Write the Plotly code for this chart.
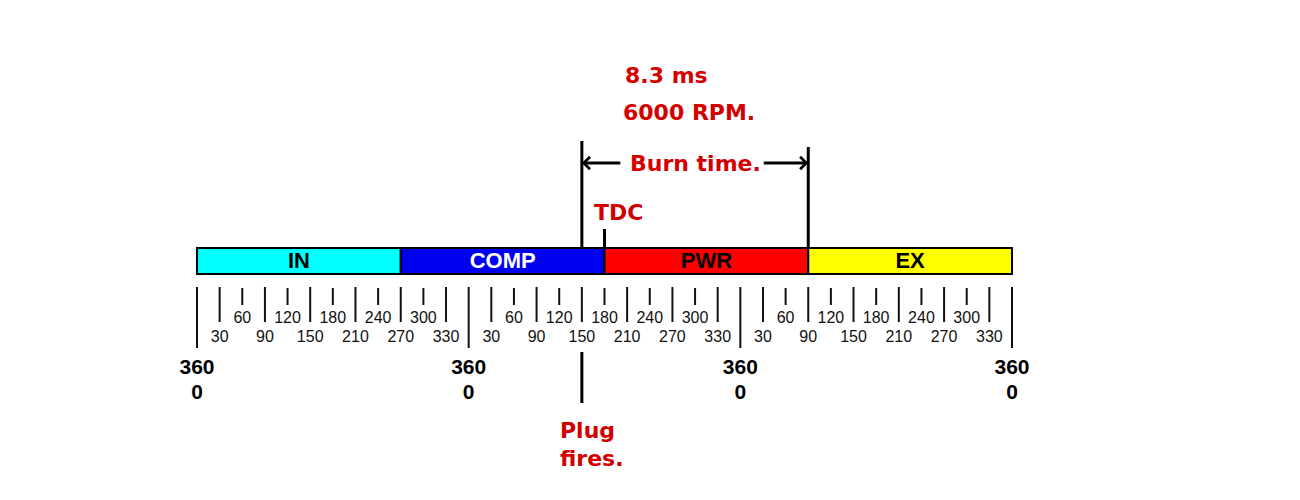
import plotly.graph_objects as go

# four strokes of the cycle, in crank degrees
strokes = ["IN", "COMP", "PWR", "EX"]
stroke_start = [0, 270, 540, 810]
stroke_end = [270, 540, 810, 1080]

# full turns of the crank and the scale labels inside one turn
turn_marks = [0, 360, 720, 1080]
upper_labels = [60, 120, 180, 240, 300]
lower_labels = [30, 90, 150, 210, 270, 330]

# events
tdc_deg = 540
plug_fires_deg = 510
burn_end_deg = 810
burn_time_text = "8.3 ms"
rpm_text = "6000 RPM."

# styling
stroke_colors = ["#00FFFF", "#0000F0", "#FF0000", "#FFFF00"]
stroke_text_colors = ["black", "white", "black", "black"]
RED = "#D40000"
red_font = dict(family="DejaVu Sans", size=22, color=RED, weight="bold")

# degrees -> pixels: the scale runs from px 197 to px 1012 of the page
# (the page body adds 8px around the figure)
PAD = 8
K = (1012 - 197) / 1080
x_range = [-(197 - PAD) / K, (1300 - 197 + PAD) / K]
y_range = [500 + PAD, PAD]


def vlines(xs, y0, y1):
    xx, yy = [], []
    for x in xs:
        xx += [x, x, None]
        yy += [y0, y1, None]
    return xx, yy


fig = go.Figure()

# stroke bar
fig.add_trace(go.Bar(
    orientation="h",
    y=[261] * len(strokes),
    x=[e - s for s, e in zip(stroke_start, stroke_end)],
    base=stroke_start,
    width=26,
    marker=dict(color=stroke_colors, line=dict(color="black", width=2)),
    hoverinfo="skip",
))
fig.add_trace(go.Scatter(
    x=[(s + e) / 2 for s, e in zip(stroke_start, stroke_end)],
    y=[262] * len(strokes),
    mode="text",
    text=strokes,
    textfont=dict(family="Liberation Sans", size=22, color=stroke_text_colors, weight="bold"),
    hoverinfo="skip",
))

# scale ticks
turns = turn_marks[:-1]
long_ticks = [t + d for t in turns for d in lower_labels]
short_ticks = [t + d for t in turns for d in upper_labels]
for xs, y0, y1 in [(turn_marks, 287, 348), (long_ticks, 287, 322), (short_ticks, 288, 305)]:
    xx, yy = vlines(xs, y0, y1)
    fig.add_trace(go.Scatter(x=xx, y=yy, mode="lines",
                             line=dict(color="#111111", width=2), hoverinfo="skip"))

tick_font = dict(family="Liberation Sans", size=16, color="#111111")
fig.add_trace(go.Scatter(
    x=short_ticks, y=[319] * len(short_ticks), mode="text",
    text=[str(d) for t in turns for d in upper_labels],
    textfont=tick_font, hoverinfo="skip",
))
fig.add_trace(go.Scatter(
    x=long_ticks, y=[338] * len(long_ticks), mode="text",
    text=[str(d) for t in turns for d in lower_labels],
    textfont=tick_font, hoverinfo="skip",
))
turn_font = dict(family="Liberation Sans", size=21, color="black", weight="bold")
fig.add_trace(go.Scatter(
    x=turn_marks, y=[369] * len(turn_marks), mode="text",
    text=["360"] * len(turn_marks), textfont=turn_font, hoverinfo="skip",
))
fig.add_trace(go.Scatter(
    x=turn_marks, y=[394] * len(turn_marks), mode="text",
    text=["0"] * len(turn_marks), textfont=turn_font, hoverinfo="skip",
))

# event markers
for x, y0, y1 in [(plug_fires_deg, 141, 247), (burn_end_deg, 147, 247),
                  (tdc_deg, 229, 248), (plug_fires_deg, 352, 403)]:
    fig.add_trace(go.Scatter(x=[x, x], y=[y0, y1], mode="lines",
                             line=dict(color="black", width=3), hoverinfo="skip"))

# burn time arrows
for head, tail in [(plug_fires_deg, plug_fires_deg + 53), (burn_end_deg, burn_end_deg - 61)]:
    fig.add_annotation(x=head, y=163, ax=tail, ay=163, xref="x", yref="y",
                       axref="x", ayref="y", text="", showarrow=True,
                       arrowhead=4, arrowsize=0.8, arrowwidth=3, arrowcolor="black",
                       standoff=0, startstandoff=0)

fig.add_annotation(x=(plug_fires_deg + burn_end_deg) / 2, y=163, text="Burn time.",
                   showarrow=False, font=red_font)
fig.add_annotation(x=plug_fires_deg + 55, y=75, text=burn_time_text, xanchor="left",
                   showarrow=False, font=red_font)
fig.add_annotation(x=plug_fires_deg + 52, y=112, text=rpm_text, xanchor="left",
                   showarrow=False, font=red_font)
fig.add_annotation(x=tdc_deg - 17, y=212, text="TDC", xanchor="left",
                   showarrow=False, font=red_font)
fig.add_annotation(x=plug_fires_deg - 32, y=430, text="Plug", xanchor="left",
                   showarrow=False, font=red_font)
fig.add_annotation(x=plug_fires_deg - 32, y=458, text="fires.", xanchor="left",
                   showarrow=False, font=red_font)

fig.update_layout(
    width=1300, height=500,
    margin=dict(l=0, r=0, t=0, b=0),
    paper_bgcolor="white", plot_bgcolor="white",
    showlegend=False,
    xaxis=dict(range=x_range, visible=False, fixedrange=True),
    yaxis=dict(range=y_range, visible=False, fixedrange=True),
)

fig.write_html("out.html")
